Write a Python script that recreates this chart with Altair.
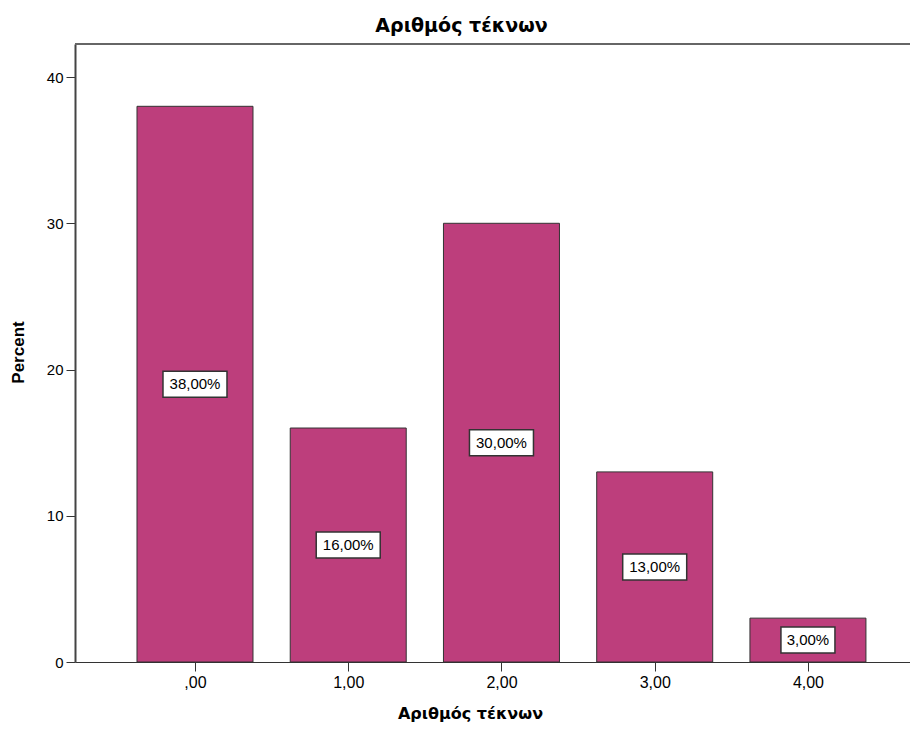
import altair as alt
import pandas as pd

categories = [0, 1, 2, 3, 4]
tick_labels = [",00", "1,00", "2,00", "3,00", "4,00"]
percents = [38.0, 16.0, 30.0, 13.0, 3.0]
value_labels = ["38,00%", "16,00%", "30,00%", "13,00%", "3,00%"]
y_ticks = [0, 10, 20, 30, 40]

df = pd.DataFrame({"cat": categories, "pct": percents, "label": value_labels})
df["mid"] = df["pct"] / 2
df["wide"] = df["label"].str.len() > 5

W, H = 835, 618
FILL = "#BD3E7C"
xscale = alt.Scale(domain=[-0.783, 4.666], nice=False, zero=False, padding=0)
yscale = alt.Scale(domain=[0, 42.26], nice=False, padding=0)

lbl_arr = "[" + ",".join("'" + t + "'" for t in tick_labels) + "]"

x_axis = alt.Axis(
    values=categories, labelExpr=lbl_arr + "[datum.value]",
    title="Αριθμός τέκνων", titleFont="DejaVu Sans", titleFontWeight="bold",
    titleFontSize=16, titleColor="black", titleX=395, titleY=56,
    titleBaseline="alphabetic", titleAlign="center",
    domainColor="#333", domainWidth=1, tickColor="#333", tickSize=9,
    labelFont="Liberation Sans", labelFontSize=16, labelColor="black",
    labelPadding=3, grid=False,
)
y_axis = alt.Axis(
    values=y_ticks, format="d",
    title="Percent", titleFont="Liberation Sans", titleFontWeight="bold",
    titleFontSize=17, titleColor="black", titleX=-57, titleY=H / 2 - 1,
    titleBaseline="middle", titleAlign="center",
    domainColor="#444", domainWidth=2, tickColor="#333", tickSize=9,
    labelFont="Liberation Sans", labelFontSize=15, labelColor="black",
    labelPadding=3, grid=False,
)

base = alt.Chart(df)

bars = base.mark_bar(size=116, color=FILL, stroke="#333", strokeWidth=1).encode(
    x=alt.X("cat:Q", scale=xscale, axis=x_axis),
    y=alt.Y("pct:Q", scale=yscale, axis=y_axis),
)

box_wide = base.transform_filter("datum.wide").mark_rect(
    fill="white", stroke="#333", strokeWidth=1.5,
    xOffset=-32, x2Offset=32, yOffset=-13, y2Offset=13,
).encode(x="cat:Q", x2="cat", y="mid:Q", y2="mid")

box_narrow = base.transform_filter("!datum.wide").mark_rect(
    fill="white", stroke="#333", strokeWidth=1.5,
    xOffset=-27, x2Offset=27, yOffset=-13, y2Offset=13,
).encode(x="cat:Q", x2="cat", y="mid:Q", y2="mid")

texts = base.mark_text(font="Liberation Sans", fontSize=15, color="black").encode(
    x="cat:Q", y="mid:Q", text="label:N"
)

top_border = alt.Chart(pd.DataFrame({"a": [0]})).mark_rule(color="#666", strokeWidth=2).encode(
    x=alt.value(0), x2=alt.value(W), y=alt.value(0)
)

chart = alt.layer(bars, box_wide, box_narrow, texts, top_border).properties(
    width=W, height=H,
    title=alt.TitleParams("Αριθμός τέκνων", font="DejaVu Sans", fontSize=19,
                          fontWeight="bold", color="black", dx=-31, offset=7, anchor="middle"),
    autosize=alt.AutoSizeParams(type="none"),
    padding={"left": 67, "top": 36, "right": 0, "bottom": 60},
).configure_view(stroke=None, fill="#F0F0F0").configure(background="white")

chart.save("out.html", embed_options={"renderer": "svg", "actions": False})
